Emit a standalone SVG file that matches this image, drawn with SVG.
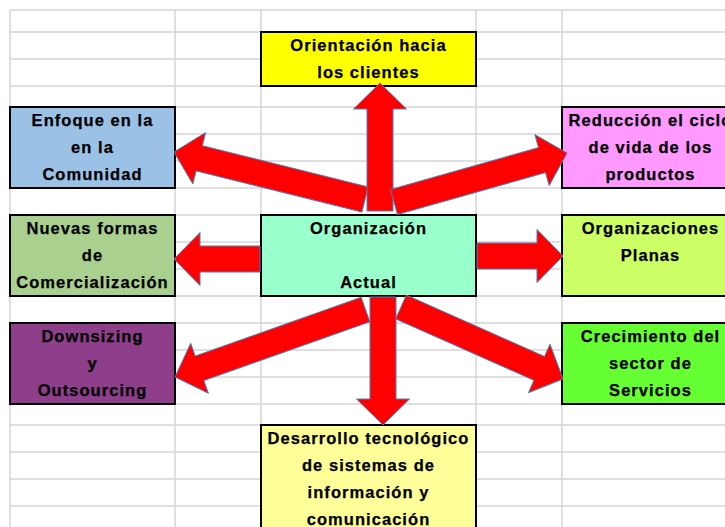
<svg xmlns="http://www.w3.org/2000/svg" width="725" height="527" viewBox="0 0 725 527">
<style>
.grid line{stroke:#d4d4d4;stroke-width:1.5}
.box{stroke:#000;stroke-width:2}
.t{font-family:"Liberation Sans",Arial,sans-serif;font-weight:bold;font-size:16.5px;letter-spacing:1.05px;text-anchor:middle;fill:#000;stroke:#000;stroke-width:0.25}
.arrow{fill:#ff0000;stroke:#4a7ebb;stroke-width:1}
</style>
<rect width="725" height="527" fill="#fff"/>
<g class="grid">
<line x1="10" y1="10" x2="725" y2="10"/>
<line x1="10" y1="32" x2="725" y2="32"/>
<line x1="10" y1="59" x2="725" y2="59"/>
<line x1="10" y1="86" x2="725" y2="86"/>
<line x1="10" y1="107" x2="725" y2="107"/>
<line x1="10" y1="134" x2="725" y2="134"/>
<line x1="10" y1="161" x2="725" y2="161"/>
<line x1="10" y1="188" x2="725" y2="188"/>
<line x1="10" y1="215" x2="725" y2="215"/>
<line x1="10" y1="242" x2="725" y2="242"/>
<line x1="10" y1="269" x2="725" y2="269"/>
<line x1="10" y1="296" x2="725" y2="296"/>
<line x1="10" y1="323" x2="725" y2="323"/>
<line x1="10" y1="350" x2="725" y2="350"/>
<line x1="10" y1="377" x2="725" y2="377"/>
<line x1="10" y1="404" x2="725" y2="404"/>
<line x1="10" y1="425" x2="725" y2="425"/>
<line x1="10" y1="452" x2="725" y2="452"/>
<line x1="10" y1="479" x2="725" y2="479"/>
<line x1="10" y1="506" x2="725" y2="506"/>
<line x1="10" y1="10" x2="10" y2="527"/>
<line x1="175" y1="10" x2="175" y2="527"/>
<line x1="261" y1="10" x2="261" y2="527"/>
<line x1="476" y1="10" x2="476" y2="527"/>
<line x1="562" y1="10" x2="562" y2="527"/>
</g>
<g id="orientacion">
<rect class="box" x="261" y="32" width="215" height="54" fill="#ffff00"/>
<text class="t" x="368.5" y="51">Orientación hacia</text>
<text class="t" x="368.5" y="78">los clientes</text>
</g>
<g id="enfoque">
<rect class="box" x="10" y="107" width="165" height="81" fill="#9bc2e6"/>
<text class="t" x="92.5" y="126">Enfoque en la</text>
<text class="t" x="92.5" y="153">en la</text>
<text class="t" x="92.5" y="180">Comunidad</text>
</g>
<g id="reduccion">
<rect class="box" x="562" y="107" width="180" height="81" fill="#ff99ff"/>
<text class="t" x="650.5" y="126">Reducción el ciclo</text>
<text class="t" x="650.5" y="153">de vida de los</text>
<text class="t" x="650.5" y="180">productos</text>
</g>
<g id="nuevas">
<rect class="box" x="10" y="215" width="165" height="81" fill="#a9d08e"/>
<text class="t" x="92.5" y="234">Nuevas formas</text>
<text class="t" x="92.5" y="261">de</text>
<text class="t" x="92.5" y="288">Comercialización</text>
</g>
<g id="organizacion">
<rect class="box" x="261" y="215" width="215" height="81" fill="#99ffcc"/>
<text class="t" x="368.5" y="234">Organización</text>
<text class="t" x="368.5" y="288">Actual</text>
</g>
<g id="planas">
<rect class="box" x="562" y="215" width="180" height="81" fill="#ccff66"/>
<text class="t" x="650.5" y="234">Organizaciones</text>
<text class="t" x="650.5" y="261">Planas</text>
</g>
<g id="downsizing">
<rect class="box" x="10" y="323" width="165" height="81" fill="#8e3e8a"/>
<text class="t" x="92.5" y="342">Downsizing</text>
<text class="t" x="92.5" y="369">y</text>
<text class="t" x="92.5" y="396">Outsourcing</text>
</g>
<g id="crecimiento">
<rect class="box" x="562" y="323" width="180" height="81" fill="#66ff33"/>
<text class="t" x="650.5" y="342">Crecimiento del</text>
<text class="t" x="650.5" y="369">sector de</text>
<text class="t" x="650.5" y="396">Servicios</text>
</g>
<g id="desarrollo">
<rect class="box" x="261" y="425" width="215" height="112" fill="#ffff99"/>
<text class="t" x="368.5" y="444">Desarrollo tecnológico</text>
<text class="t" x="368.5" y="471">de sistemas de</text>
<text class="t" x="368.5" y="498">información y</text>
<text class="t" x="368.5" y="525">comunicación</text>
</g>
<g id="connectors">
<polygon class="arrow" points="368.1,186.9 202.4,145.7 205.6,132.6 174,152 192.8,184 196.1,170.9 361.9,212.1"/>
<polygon class="arrow" points="393,211 393,109 406.5,109 380,83 353.5,109 367,109 367,211"/>
<polygon class="arrow" points="397.5,214.5 545.5,172.6 549.2,185.6 567,153 534.8,134.6 538.5,147.6 390.5,189.5"/>
<polygon class="arrow" points="260,246 200,246 200,232.5 174,259 200,285.5 200,272 260,272"/>
<polygon class="arrow" points="477,243 537,243 537,229.5 563,256 537,282.5 537,269 477,269"/>
<polygon class="arrow" points="361.2,297.3 195.2,356.1 190.7,343.3 175,377 208.4,393.3 203.8,380.6 369.8,321.8"/>
<polygon class="arrow" points="370,297 370,399 356.5,399 383,425 409.5,399 396,399 396,297"/>
<polygon class="arrow" points="395.7,318.9 533.9,380.3 528.5,392.7 563,379 550,344.2 544.5,356.5 406.3,295.1"/>
</g>
</svg>
